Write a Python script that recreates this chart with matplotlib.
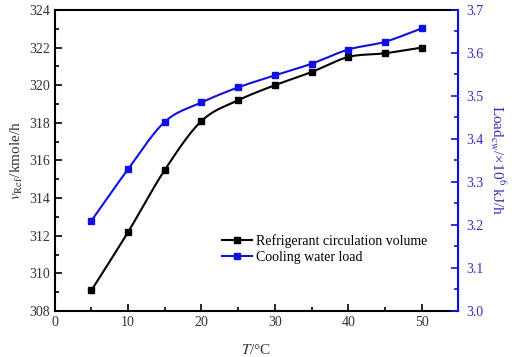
import numpy as np
import matplotlib
matplotlib.use('Agg')
import matplotlib.pyplot as plt
from matplotlib.ticker import MultipleLocator

plt.rcParams['font.family'] = ['Liberation Serif', 'DejaVu Serif']
plt.rcParams['mathtext.fontset'] = 'stix'

# data
temp = [5, 10, 15, 20, 25, 30, 35, 40, 45, 50]
ref_volume = [309.1, 312.2, 315.5, 318.1, 319.2, 320.0, 320.7, 321.5, 321.7, 322.0]
cw_load = [3.21, 3.33, 3.44, 3.485, 3.52, 3.548, 3.575, 3.608, 3.626, 3.657]

blue = '#1010e0'
label_blue = '#3030b8'


def smooth(x, y, n=20):
    # Catmull-Rom curve through the points (only for drawing the line)
    x = np.asarray(x, float)
    y = np.asarray(y, float)
    px = np.concatenate([[2 * x[0] - x[1]], x, [2 * x[-1] - x[-2]]])
    py = np.concatenate([[2 * y[0] - y[1]], y, [2 * y[-1] - y[-2]]])
    t = np.linspace(0, 1, n, endpoint=False)
    xs, ys = [], []
    for i in range(1, len(px) - 2):
        for p, out in ((px, xs), (py, ys)):
            p0, p1, p2, p3 = p[i - 1], p[i], p[i + 1], p[i + 2]
            out.extend(0.5 * (2 * p1 + (-p0 + p2) * t
                              + (2 * p0 - 5 * p1 + 4 * p2 - p3) * t ** 2
                              + (-p0 + 3 * p1 - 3 * p2 + p3) * t ** 3))
    xs.append(x[-1])
    ys.append(y[-1])
    return xs, ys


fig = plt.figure(figsize=(5.12, 3.57), dpi=100)
ax = fig.add_axes([0.107, 0.129, 0.788, 0.843])
ax2 = ax.twinx()

sx, sy = smooth(temp, ref_volume)
ax.plot(sx, sy, color='black', linewidth=1.5)
ax.plot(temp, ref_volume, 's', color='black', markersize=4.5)
l1, = ax.plot([], [], '-s', color='black', linewidth=1.5, markersize=4.5,
              label='Refrigerant circulation volume')

sx, sy = smooth(temp, cw_load)
ax2.plot(sx, sy, color=blue, linewidth=1.5)
ax2.plot(temp, cw_load, 's', color=blue, markersize=4.5)
l2, = ax2.plot([], [], '-s', color=blue, linewidth=1.5, markersize=4.5,
               label='Cooling water load')

ax.set_xlim(0, 55)
ax.set_ylim(308, 324)
ax2.set_ylim(3.0, 3.7)

ax.xaxis.set_major_locator(MultipleLocator(10))
ax.xaxis.set_minor_locator(MultipleLocator(5))
ax.yaxis.set_major_locator(MultipleLocator(2))
ax.yaxis.set_minor_locator(MultipleLocator(1))
ax2.yaxis.set_major_locator(MultipleLocator(0.1))
ax2.yaxis.set_minor_locator(MultipleLocator(0.05))

ax.tick_params(axis='both', which='both', direction='in', labelsize=10,
               colors='black', labelcolor='#333333', width=1.2)
ax.tick_params(which='major', length=5)
ax.tick_params(which='minor', length=3)
ax.tick_params(axis='y', right=False)
ax.tick_params(axis='x', top=False)
ax2.tick_params(axis='y', which='both', direction='in', labelsize=10,
                colors=blue, labelcolor=label_blue, width=1.2, pad=6)
ax2.tick_params(axis='y', which='major', length=5)
ax2.tick_params(axis='y', which='minor', length=3)
ax2.yaxis.set_major_formatter(matplotlib.ticker.FormatStrFormatter('%.1f'))

for s in ['left', 'bottom', 'top']:
    ax.spines[s].set_linewidth(1.5)
ax2.spines['right'].set_color(blue)
ax2.spines['right'].set_linewidth(1.5)
for s in ['left', 'bottom', 'top']:
    ax2.spines[s].set_visible(False)

ax.set_xlabel(r'$\it{T}$/°C', fontsize=11, color='#333333', labelpad=10)
ax.set_ylabel(r'$\it{v}_{\rm Ref}$/kmole/h', fontsize=11, color='#333333', labelpad=3)
ax2.set_ylabel(r'Load$_{\rm cw}$/×10$^{6}$ kJ/h', fontsize=11, color=label_blue,
               rotation=270, labelpad=17)

ax.legend(handles=[l1, l2], loc='upper left', bbox_to_anchor=(0.40, 0.275),
          frameon=False, fontsize=10, handlelength=2.2, handletextpad=0.3,
          labelspacing=0.25, borderaxespad=0)

fig.savefig('out.png', dpi=100)
